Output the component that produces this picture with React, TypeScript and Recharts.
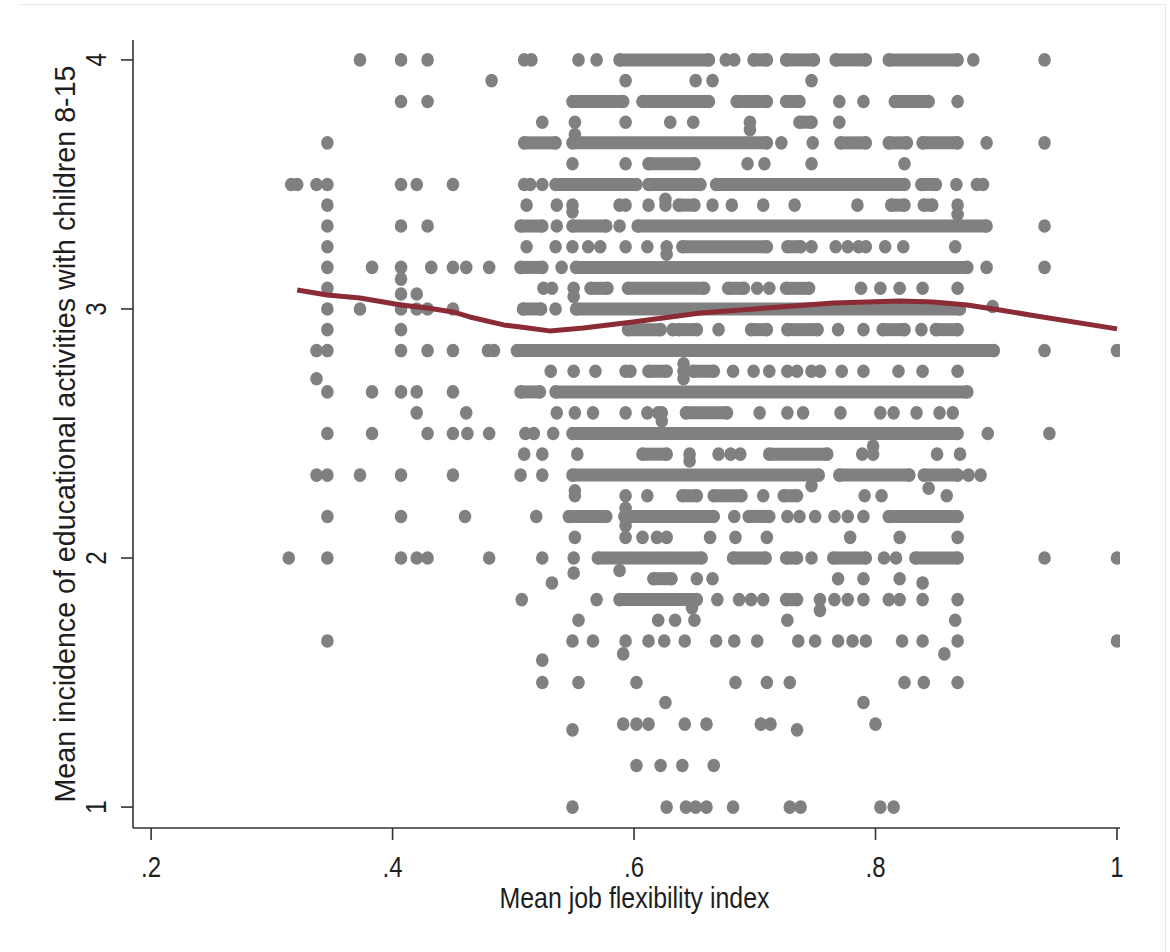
import React from "react";
import { ScatterChart, Scatter, XAxis, YAxis, Label } from "recharts";

// Isolated markers: [flexibility index, educational activities]
const dots: [number, number][] = [
  // y = 4
  [0.373, 4], [0.407, 4], [0.429, 4], [0.509, 4], [0.515, 4], [0.554, 4], [0.569, 4],
  [0.676, 4], [0.683, 4], [0.881, 4], [0.94, 4],
  // 3.917
  [0.482, 3.917], [0.593, 3.917], [0.651, 3.917], [0.665, 3.917], [0.747, 3.917],
  // 3.833
  [0.407, 3.833], [0.429, 3.833], [0.77, 3.833], [0.79, 3.833], [0.868, 3.833],
  // 3.75
  [0.524, 3.75], [0.551, 3.75], [0.551, 3.7], [0.593, 3.75], [0.63, 3.75], [0.649, 3.75],
  [0.696, 3.75], [0.696, 3.72], [0.77, 3.75],
  // 3.667
  [0.346, 3.667], [0.722, 3.667], [0.748, 3.667], [0.892, 3.667], [0.94, 3.667],
  // 3.583
  [0.549, 3.583], [0.593, 3.583], [0.694, 3.583], [0.708, 3.583], [0.747, 3.583], [0.824, 3.583],
  // 3.5
  [0.316, 3.5], [0.321, 3.5], [0.337, 3.5], [0.346, 3.5], [0.407, 3.5], [0.42, 3.5], [0.45, 3.5],
  [0.509, 3.5], [0.514, 3.5], [0.524, 3.5], [0.867, 3.5], [0.884, 3.5], [0.889, 3.5],
  // 3.417
  [0.346, 3.417], [0.511, 3.417], [0.536, 3.417], [0.549, 3.417], [0.549, 3.39], [0.588, 3.417],
  [0.593, 3.417], [0.612, 3.417], [0.626, 3.417], [0.626, 3.44], [0.665, 3.417], [0.681, 3.417],
  [0.707, 3.417], [0.733, 3.417], [0.785, 3.417], [0.868, 3.417], [0.868, 3.38],
  // 3.333
  [0.346, 3.333], [0.407, 3.333], [0.429, 3.333], [0.536, 3.333], [0.588, 3.333], [0.94, 3.333],
  // 3.25
  [0.346, 3.25], [0.511, 3.25], [0.535, 3.25], [0.549, 3.25], [0.562, 3.25], [0.572, 3.25],
  [0.593, 3.25], [0.611, 3.25], [0.627, 3.25], [0.627, 3.22], [0.747, 3.25], [0.767, 3.25],
  [0.777, 3.25], [0.786, 3.25], [0.792, 3.25], [0.808, 3.25], [0.823, 3.25], [0.866, 3.25],
  // 3.167
  [0.346, 3.167], [0.383, 3.167], [0.407, 3.167], [0.432, 3.167], [0.45, 3.167], [0.461, 3.167],
  [0.48, 3.167], [0.54, 3.167], [0.892, 3.167], [0.94, 3.167],
  // 3.083
  [0.346, 3.083], [0.407, 3.12], [0.407, 3.06], [0.42, 3.06], [0.525, 3.083], [0.532, 3.083],
  [0.55, 3.083], [0.55, 3.05], [0.702, 3.083], [0.712, 3.083], [0.788, 3.083], [0.804, 3.083],
  [0.82, 3.083], [0.839, 3.083], [0.868, 3.083],
  // 3
  [0.346, 3], [0.373, 3], [0.407, 3], [0.42, 3], [0.429, 3], [0.45, 3], [0.535, 3], [0.897, 3.01],
  // 2.917
  [0.346, 2.917], [0.407, 2.917], [0.632, 2.917], [0.67, 2.917], [0.769, 2.917], [0.79, 2.917],
  [0.838, 2.917],
  // 2.833
  [0.337, 2.833], [0.346, 2.833], [0.407, 2.833], [0.429, 2.833], [0.45, 2.833], [0.479, 2.833],
  [0.484, 2.833], [0.94, 2.833], [1.0, 2.833],
  // 2.75
  [0.337, 2.72], [0.531, 2.75], [0.55, 2.75], [0.568, 2.75], [0.593, 2.75], [0.597, 2.75],
  [0.641, 2.75], [0.641, 2.72], [0.641, 2.78], [0.682, 2.75], [0.699, 2.75], [0.712, 2.75],
  [0.727, 2.75], [0.735, 2.75], [0.747, 2.75], [0.754, 2.75], [0.772, 2.75], [0.79, 2.75],
  [0.819, 2.75], [0.839, 2.75], [0.868, 2.75],
  // 2.667
  [0.346, 2.667], [0.383, 2.667], [0.407, 2.667], [0.42, 2.667], [0.45, 2.667],
  // 2.583
  [0.42, 2.583], [0.461, 2.583], [0.536, 2.583], [0.551, 2.583], [0.566, 2.583], [0.593, 2.583],
  [0.611, 2.583], [0.62, 2.583], [0.623, 2.583], [0.623, 2.55], [0.704, 2.583], [0.727, 2.583],
  [0.74, 2.583], [0.771, 2.583], [0.804, 2.583], [0.815, 2.583], [0.834, 2.583], [0.853, 2.583],
  [0.864, 2.583],
  // 2.5
  [0.346, 2.5], [0.383, 2.5], [0.429, 2.5], [0.45, 2.5], [0.462, 2.5], [0.48, 2.5], [0.51, 2.5],
  [0.517, 2.5], [0.533, 2.5], [0.893, 2.5], [0.944, 2.5],
  // 2.417
  [0.509, 2.417], [0.524, 2.417], [0.553, 2.417], [0.646, 2.417], [0.646, 2.39], [0.67, 2.417],
  [0.68, 2.417], [0.688, 2.417], [0.789, 2.417], [0.798, 2.417], [0.798, 2.45], [0.851, 2.417],
  [0.87, 2.417],
  // 2.333
  [0.337, 2.333], [0.346, 2.333], [0.373, 2.333], [0.407, 2.333], [0.45, 2.333], [0.506, 2.333],
  [0.524, 2.333], [0.877, 2.333], [0.887, 2.333],
  // 2.25
  [0.551, 2.25], [0.551, 2.27], [0.593, 2.25], [0.593, 2.2], [0.593, 2.13], [0.611, 2.25],
  [0.707, 2.25], [0.747, 2.29], [0.791, 2.25], [0.805, 2.25], [0.844, 2.28], [0.859, 2.25],
  // 2.167
  [0.346, 2.167], [0.407, 2.167], [0.46, 2.167], [0.519, 2.167], [0.683, 2.167], [0.727, 2.167],
  [0.737, 2.167], [0.75, 2.167], [0.766, 2.167], [0.777, 2.167], [0.79, 2.167],
  // 2.083
  [0.551, 2.083], [0.593, 2.083], [0.607, 2.083], [0.619, 2.083], [0.627, 2.083], [0.663, 2.083],
  [0.684, 2.083], [0.71, 2.083], [0.779, 2.083], [0.82, 2.083], [0.868, 2.083],
  // 2
  [0.314, 2], [0.346, 2], [0.407, 2], [0.42, 2], [0.429, 2], [0.48, 2], [0.524, 2], [0.55, 2],
  [0.55, 1.94], [0.588, 1.95], [0.747, 2], [0.807, 2], [0.817, 2], [0.94, 2], [1.0, 2],
  // 1.917
  [0.532, 1.9], [0.652, 1.917], [0.665, 1.917], [0.769, 1.917], [0.79, 1.917], [0.82, 1.917],
  [0.839, 1.9],
  // 1.833
  [0.507, 1.833], [0.569, 1.833], [0.648, 1.8], [0.669, 1.833], [0.687, 1.833], [0.697, 1.833],
  [0.707, 1.833], [0.754, 1.833], [0.754, 1.79], [0.766, 1.833], [0.777, 1.833], [0.79, 1.833],
  [0.811, 1.833], [0.82, 1.833], [0.839, 1.833], [0.868, 1.833],
  // 1.75
  [0.554, 1.75], [0.62, 1.75], [0.634, 1.75], [0.65, 1.75], [0.727, 1.75], [0.866, 1.75],
  // 1.667
  [0.346, 1.667], [0.549, 1.667], [0.566, 1.667], [0.593, 1.667], [0.612, 1.667], [0.625, 1.667],
  [0.642, 1.667], [0.668, 1.667], [0.683, 1.667], [0.702, 1.667], [0.736, 1.667], [0.75, 1.667],
  [0.769, 1.667], [0.781, 1.667], [0.792, 1.667], [0.822, 1.667], [0.839, 1.667], [0.868, 1.667],
  [1.0, 1.667],
  // 1.6
  [0.524, 1.59], [0.591, 1.615], [0.857, 1.615],
  // 1.5
  [0.524, 1.5], [0.554, 1.5], [0.602, 1.5], [0.684, 1.5], [0.71, 1.5], [0.729, 1.5], [0.824, 1.5],
  [0.84, 1.5], [0.868, 1.5],
  // 1.42
  [0.626, 1.42], [0.79, 1.42],
  // 1.333
  [0.591, 1.333], [0.602, 1.333], [0.612, 1.333], [0.642, 1.333], [0.66, 1.333], [0.705, 1.333],
  [0.713, 1.333], [0.8, 1.333], [0.549, 1.31], [0.735, 1.31],
  // 1.167
  [0.602, 1.167], [0.622, 1.167], [0.64, 1.167], [0.666, 1.167],
  // 1
  [0.549, 1], [0.627, 1], [0.643, 1], [0.651, 1], [0.66, 1], [0.682, 1], [0.729, 1], [0.738, 1],
  [0.804, 1], [0.815, 1],
];

// Runs of overlapping markers: [y, first x, last x]
const bands: [number, number, number][] = [
  [4, 0.588, 0.662], [4, 0.699, 0.71], [4, 0.726, 0.749], [4, 0.767, 0.792], [4, 0.811, 0.868],
  [3.833, 0.549, 0.591], [3.833, 0.607, 0.662], [3.833, 0.685, 0.71], [3.833, 0.726, 0.737],
  [3.833, 0.816, 0.844],
  [3.75, 0.737, 0.747],
  [3.667, 0.509, 0.535], [3.667, 0.549, 0.71], [3.667, 0.771, 0.792], [3.667, 0.811, 0.826],
  [3.667, 0.839, 0.868],
  [3.583, 0.612, 0.65],
  [3.5, 0.535, 0.602], [3.5, 0.612, 0.655], [3.5, 0.668, 0.824], [3.5, 0.838, 0.85],
  [3.417, 0.637, 0.65], [3.417, 0.813, 0.824], [3.417, 0.84, 0.847],
  [3.333, 0.506, 0.524], [3.333, 0.549, 0.577], [3.333, 0.603, 0.892],
  [3.25, 0.64, 0.71], [3.25, 0.727, 0.738],
  [3.167, 0.506, 0.524], [3.167, 0.552, 0.876],
  [3.083, 0.564, 0.578], [3.083, 0.595, 0.658], [3.083, 0.678, 0.691], [3.083, 0.726, 0.745],
  [3, 0.508, 0.523], [3, 0.552, 0.87],
  [2.917, 0.595, 0.622], [2.917, 0.637, 0.652], [2.917, 0.697, 0.71], [2.917, 0.727, 0.752],
  [2.917, 0.806, 0.824], [2.917, 0.85, 0.868],
  [2.833, 0.503, 0.898],
  [2.75, 0.612, 0.627], [2.75, 0.649, 0.666],
  [2.667, 0.506, 0.522], [2.667, 0.535, 0.876],
  [2.583, 0.643, 0.677],
  [2.5, 0.549, 0.868],
  [2.417, 0.607, 0.627], [2.417, 0.712, 0.76],
  [2.333, 0.549, 0.753], [2.333, 0.77, 0.828], [2.333, 0.84, 0.868],
  [2.25, 0.64, 0.652], [2.25, 0.666, 0.689], [2.25, 0.724, 0.735],
  [2.167, 0.546, 0.577], [2.167, 0.592, 0.666], [2.167, 0.695, 0.712], [2.167, 0.811, 0.868],
  [2, 0.57, 0.656], [2, 0.682, 0.709], [2, 0.726, 0.735], [2, 0.765, 0.792], [2, 0.833, 0.868],
  [1.917, 0.616, 0.631],
  [1.833, 0.588, 0.652], [1.833, 0.726, 0.735],
];

// Smoothed (lowess) fit
const fitX = [0.321, 0.346, 0.373, 0.407, 0.429, 0.45, 0.464, 0.492, 0.506, 0.53, 0.558, 0.599,
  0.655, 0.71, 0.765, 0.82, 0.848, 0.876, 0.903, 0.928, 1.0];
const fitY = [3.076, 3.056, 3.044, 3.016, 3.004, 2.988, 2.968, 2.936, 2.928, 2.912, 2.924, 2.948,
  2.984, 3.004, 3.024, 3.032, 3.028, 3.016, 2.996, 2.976, 2.92];

const xTicks = [0.2, 0.4, 0.6, 0.8, 1];
const yTicks = [1, 2, 3, 4];

const GRAY = "#808080";
const RED = "#8b2b35";
const AXIS = "#333333";
const INK = "#1e1e1e";
const FONT = "'Liberation Sans', Arial, sans-serif";
const NARROW = 0.8; // Stata's narrow face, imitated by squeezing the glyphs

const dotData = dots.map(([x, y]) => ({ x, y }));
const fitData = fitX.map((x, i) => ({ x, y: fitY[i] }));

const Marker = (props: any) => (
  <ellipse cx={props.cx} cy={props.cy} rx={6.3} ry={6.8} fill={GRAY} />
);

const fmtX = (v: number) => (v === 1 ? "1" : "." + Math.round(v * 10));

const XTick = (props: any) => {
  const { x, y, payload } = props;
  return (
    <g transform={`translate(${x},${y}) scale(${NARROW},1)`}>
      <text x={0} y={0} dy="0.71em" textAnchor="middle" fontFamily={FONT} fontSize={30} fill={INK}>
        {fmtX(payload.value)}
      </text>
    </g>
  );
};

const YTick = (props: any) => {
  const { x, y, payload } = props;
  return (
    <g transform={`translate(${x - 13},${y}) rotate(-90) scale(${NARROW},1)`}>
      <text x={0} y={0} textAnchor="middle" fontFamily={FONT} fontSize={30} fill={INK}>
        {payload.value}
      </text>
    </g>
  );
};

const xLabel = (props: any) => {
  const { x, y, width } = props.viewBox;
  return (
    <text x={x + width / 2 + 8} y={y + 80} textAnchor="middle" fontFamily={FONT} fontSize={30}
      fill={INK} textLength={270} lengthAdjust="spacingAndGlyphs">
      Mean job flexibility index
    </text>
  );
};

const yLabel = (props: any) => {
  const { x, y, height } = props.viewBox;
  const cx = x + 22;
  const cy = y + height / 2;
  return (
    <text x={cx} y={cy} transform={`rotate(-90 ${cx} ${cy})`} textAnchor="middle"
      fontFamily={FONT} fontSize={30} fill={INK} textLength={737} lengthAdjust="spacingAndGlyphs">
      Mean incidence of educational activities with children 8-15
    </text>
  );
};

export default function App() {
  return (
    <div style={{ position: "absolute", left: 0, top: 0, width: 1170, height: 952, background: "#fff" }}>
      <div style={{
        position: "absolute", left: 20, top: 4, width: 1145, height: 948,
        borderTop: "1px solid #e4eaee", borderRight: "1px solid #e4eaee",
      }} />
      <ScatterChart width={1170} height={952} margin={{ top: 40, right: 50, bottom: 44, left: 53 }}>
        <XAxis type="number" dataKey="x" domain={[0.185, 1.0025]} allowDataOverflow ticks={xTicks}
          height={80} tickSize={12} tickMargin={16} stroke={AXIS} strokeWidth={1.6}
          tick={<XTick />}>
          <Label content={xLabel} />
        </XAxis>
        <YAxis type="number" dataKey="y" domain={[0.916, 4.08]} allowDataOverflow ticks={yTicks}
          width={80} tickSize={12} stroke={AXIS} strokeWidth={1.6} tick={<YTick />}>
          <Label content={yLabel} />
        </YAxis>
        {bands.map(([y, x0, x1], i) => (
          <Scatter key={"b" + i} data={[{ x: x0, y }, { x: x1, y }]} lineType="joint"
            line={{ stroke: GRAY, strokeWidth: 13 }} shape={Marker} isAnimationActive={false} />
        ))}
        <Scatter data={dotData} shape={Marker} isAnimationActive={false} />
        <Scatter data={fitData} lineType="joint"
          line={{ stroke: RED, strokeWidth: 5, strokeLinejoin: "round" }}
          shape={() => <g />} isAnimationActive={false} />
      </ScatterChart>
    </div>
  );
}
